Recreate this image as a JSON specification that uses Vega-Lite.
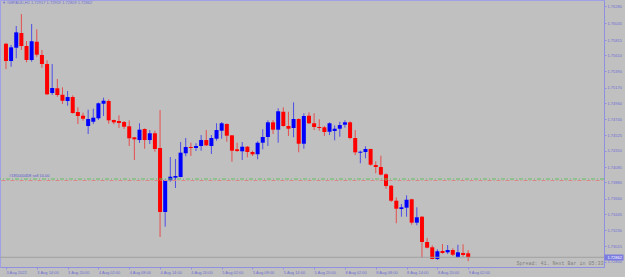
{
  "$schema": "https://vega.github.io/schema/vega-lite/v6.json",
  "width": 604,
  "height": 267,
  "autosize": "none",
  "padding": {"left": 0, "top": 0, "right": 21, "bottom": 10},
  "background": "#c0c0c0",
  "title": {
    "text": "▼ GBPAUD,H1  1.72917 1.72959 1.72809 1.72862",
    "anchor": "start",
    "frame": "group",
    "orient": "top",
    "offset": -8,
    "baseline": "alphabetic",
    "dx": 2,
    "font": "Liberation Sans",
    "fontSize": 4,
    "fontWeight": "normal",
    "color": "#6f6fd6"
  },
  "config": {
    "view": {"stroke": "#a0a0e6", "fill": "#c0c0c0"},
    "axis": {"grid": false, "labelOverlap": false}
  },
  "resolve": {"scale": {"y": "shared", "x": "shared"}, "axis": {"y": "independent", "x": "shared"}},
  "datasets": {
    "bars": [
      {"i":0,"o":1.75767,"h":1.75777,"l":1.75423,"c":1.75532},
      {"i":1,"o":1.75532,"h":1.75750,"l":1.75454,"c":1.75718},
      {"i":2,"o":1.75713,"h":1.76008,"l":1.75569,"c":1.75922},
      {"i":3,"o":1.75913,"h":1.76171,"l":1.75682,"c":1.75736},
      {"i":4,"o":1.75736,"h":1.75804,"l":1.75514,"c":1.75546},
      {"i":5,"o":1.75546,"h":1.76035,"l":1.75522,"c":1.75800},
      {"i":6,"o":1.75794,"h":1.75963,"l":1.75590,"c":1.75618},
      {"i":7,"o":1.75614,"h":1.75682,"l":1.75441,"c":1.75491},
      {"i":8,"o":1.75491,"h":1.75541,"l":1.75070,"c":1.75079},
      {"i":9,"o":1.75097,"h":1.75491,"l":1.75070,"c":1.75165},
      {"i":10,"o":1.75161,"h":1.75287,"l":1.75046,"c":1.75070},
      {"i":11,"o":1.75074,"h":1.75174,"l":1.74947,"c":1.74992},
      {"i":12,"o":1.74988,"h":1.75124,"l":1.74924,"c":1.75042},
      {"i":13,"o":1.75042,"h":1.75065,"l":1.74815,"c":1.74825},
      {"i":14,"o":1.74838,"h":1.74902,"l":1.74675,"c":1.74784},
      {"i":15,"o":1.74788,"h":1.74829,"l":1.74720,"c":1.74747},
      {"i":16,"o":1.74648,"h":1.74870,"l":1.74539,"c":1.74743},
      {"i":17,"o":1.74706,"h":1.74883,"l":1.74675,"c":1.74761},
      {"i":18,"o":1.74753,"h":1.74968,"l":1.74730,"c":1.74957},
      {"i":19,"o":1.74951,"h":1.75033,"l":1.74784,"c":1.74992},
      {"i":20,"o":1.74988,"h":1.75011,"l":1.74679,"c":1.74725},
      {"i":21,"o":1.74730,"h":1.74736,"l":1.74671,"c":1.74698},
      {"i":22,"o":1.74716,"h":1.74793,"l":1.74621,"c":1.74689},
      {"i":23,"o":1.74702,"h":1.74716,"l":1.74607,"c":1.74638},
      {"i":24,"o":1.74644,"h":1.74725,"l":1.74376,"c":1.74481},
      {"i":25,"o":1.74494,"h":1.74498,"l":1.74185,"c":1.74467},
      {"i":26,"o":1.74457,"h":1.74685,"l":1.74417,"c":1.74598},
      {"i":27,"o":1.74607,"h":1.74617,"l":1.74339,"c":1.74457},
      {"i":28,"o":1.74457,"h":1.74593,"l":1.74403,"c":1.74549},
      {"i":29,"o":1.74549,"h":1.74584,"l":1.74298,"c":1.74335},
      {"i":30,"o":1.74349,"h":1.74865,"l":1.73138,"c":1.73478},
      {"i":31,"o":1.73478,"h":1.73923,"l":1.73278,"c":1.73913},
      {"i":32,"o":1.73909,"h":1.74226,"l":1.73890,"c":1.73958},
      {"i":33,"o":1.73945,"h":1.74199,"l":1.73805,"c":1.73968},
      {"i":34,"o":1.73954,"h":1.74430,"l":1.73950,"c":1.74285},
      {"i":35,"o":1.74277,"h":1.74485,"l":1.74236,"c":1.74362},
      {"i":36,"o":1.74362,"h":1.74421,"l":1.74240,"c":1.74349},
      {"i":37,"o":1.74349,"h":1.74413,"l":1.74308,"c":1.74376},
      {"i":38,"o":1.74376,"h":1.74525,"l":1.74312,"c":1.74457},
      {"i":39,"o":1.74457,"h":1.74593,"l":1.74376,"c":1.74385},
      {"i":40,"o":1.74376,"h":1.74525,"l":1.74267,"c":1.74485},
      {"i":41,"o":1.74475,"h":1.74685,"l":1.74448,"c":1.74593},
      {"i":42,"o":1.74584,"h":1.74702,"l":1.74475,"c":1.74685},
      {"i":43,"o":1.74675,"h":1.74685,"l":1.74434,"c":1.74516},
      {"i":44,"o":1.74521,"h":1.74525,"l":1.74162,"c":1.74312},
      {"i":45,"o":1.74331,"h":1.74421,"l":1.74294,"c":1.74308},
      {"i":46,"o":1.74304,"h":1.74430,"l":1.74185,"c":1.74366},
      {"i":47,"o":1.74366,"h":1.74376,"l":1.74222,"c":1.74294},
      {"i":48,"o":1.74294,"h":1.74312,"l":1.74240,"c":1.74263},
      {"i":49,"o":1.74263,"h":1.74440,"l":1.74195,"c":1.74421},
      {"i":50,"o":1.74421,"h":1.74603,"l":1.74331,"c":1.74498},
      {"i":51,"o":1.74498,"h":1.74725,"l":1.74376,"c":1.74698},
      {"i":52,"o":1.74698,"h":1.74730,"l":1.74539,"c":1.74598},
      {"i":53,"o":1.74598,"h":1.74889,"l":1.74421,"c":1.74848},
      {"i":54,"o":1.74842,"h":1.74902,"l":1.74638,"c":1.74648},
      {"i":55,"o":1.74648,"h":1.74842,"l":1.74512,"c":1.74611},
      {"i":56,"o":1.74621,"h":1.74970,"l":1.74494,"c":1.74743},
      {"i":57,"o":1.74743,"h":1.74753,"l":1.74290,"c":1.74407},
      {"i":58,"o":1.74407,"h":1.74821,"l":1.74339,"c":1.74784},
      {"i":59,"o":1.74788,"h":1.74834,"l":1.74675,"c":1.74685},
      {"i":60,"o":1.74685,"h":1.74821,"l":1.74593,"c":1.74634},
      {"i":61,"o":1.74634,"h":1.74739,"l":1.74584,"c":1.74621},
      {"i":62,"o":1.74630,"h":1.74648,"l":1.74512,"c":1.74566},
      {"i":63,"o":1.74570,"h":1.74698,"l":1.74525,"c":1.74685},
      {"i":64,"o":1.74580,"h":1.74657,"l":1.74453,"c":1.74611},
      {"i":65,"o":1.74611,"h":1.74706,"l":1.74502,"c":1.74661},
      {"i":66,"o":1.74666,"h":1.74725,"l":1.74625,"c":1.74698},
      {"i":67,"o":1.74698,"h":1.74712,"l":1.74467,"c":1.74485},
      {"i":68,"o":1.74485,"h":1.74593,"l":1.74253,"c":1.74290},
      {"i":69,"o":1.74285,"h":1.74312,"l":1.74141,"c":1.74298},
      {"i":70,"o":1.74294,"h":1.74372,"l":1.74209,"c":1.74335},
      {"i":71,"o":1.74335,"h":1.74339,"l":1.74108,"c":1.74122},
      {"i":72,"o":1.74117,"h":1.74168,"l":1.74005,"c":1.74090},
      {"i":73,"o":1.74090,"h":1.74244,"l":1.73977,"c":1.73986},
      {"i":74,"o":1.73991,"h":1.74005,"l":1.73795,"c":1.73832},
      {"i":75,"o":1.73836,"h":1.73845,"l":1.73614,"c":1.73632},
      {"i":76,"o":1.73632,"h":1.73678,"l":1.73325,"c":1.73523},
      {"i":77,"o":1.73519,"h":1.73587,"l":1.73414,"c":1.73542},
      {"i":78,"o":1.73537,"h":1.73705,"l":1.73414,"c":1.73645},
      {"i":79,"o":1.73651,"h":1.73659,"l":1.73305,"c":1.73333},
      {"i":80,"o":1.73333,"h":1.73542,"l":1.73297,"c":1.73406},
      {"i":81,"o":1.73414,"h":1.73424,"l":1.72853,"c":1.73070},
      {"i":82,"o":1.73070,"h":1.73125,"l":1.72984,"c":1.72993},
      {"i":83,"o":1.72998,"h":1.73025,"l":1.72835,"c":1.72839},
      {"i":84,"o":1.72839,"h":1.72971,"l":1.72825,"c":1.72944},
      {"i":85,"o":1.72948,"h":1.73043,"l":1.72911,"c":1.72921},
      {"i":86,"o":1.72930,"h":1.73029,"l":1.72907,"c":1.72961},
      {"i":87,"o":1.72961,"h":1.72984,"l":1.72880,"c":1.72897},
      {"i":88,"o":1.72862,"h":1.73033,"l":1.72853,"c":1.72930},
      {"i":89,"o":1.72921,"h":1.73039,"l":1.72870,"c":1.72893},
      {"i":90,"o":1.72917,"h":1.72959,"l":1.72809,"c":1.72862}
    ],
    "bid": [{"p": 1.72862}],
    "order": [{"i": 0.6, "p": 1.73927, "label": "#185000458 sell 10.00"}]
  },
  "layer": [
    {
      "data": {"name": "bars"},
      "mark": {"type": "rule", "strokeWidth": 1, "opacity": 0.6},
      "encoding": {
        "x": {
          "field": "i", "type": "quantitative",
          "scale": {"domain": [-0.19, 115.47], "nice": false, "zero": false},
          "axis": {
            "orient": "bottom",
            "values": [0, 6, 12, 18, 24, 30, 36, 42, 48, 54, 60, 66, 72, 78, 84, 90],
            "labelExpr": "['3 Aug 2022','3 Aug 14:00','3 Aug 20:00','4 Aug 02:00','4 Aug 08:00','4 Aug 14:00','4 Aug 20:00','5 Aug 02:00','5 Aug 08:00','5 Aug 14:00','5 Aug 20:00','8 Aug 02:00','8 Aug 08:00','8 Aug 14:00','8 Aug 20:00','9 Aug 02:00'][datum.value / 6]",
            "labelAlign": "left",
            "labelBaseline": "top",
            "labelFont": "Liberation Sans",
            "labelFontSize": 4,
            "labelColor": "#6f6fd6",
            "labelPadding": 1,
            "labelOverlap": false,
            "labelFlush": false,
            "tickSize": 2,
            "tickColor": "#9090e0",
            "domainColor": "#9090e0",
            "title": "Spread: 41. Next Bar in 05:33",
            "titleX": 603,
            "titleY": -2,
            "titleAlign": "right",
            "titleBaseline": "bottom",
            "titleFont": "Liberation Mono",
            "titleFontSize": 5,
            "titleFontWeight": "normal",
            "titleColor": "#808080"
          }
        },
        "y": {
          "field": "l", "type": "quantitative",
          "scale": {"domain": [1.7273, 1.76362], "nice": false, "zero": false},
          "axis": {
            "orient": "right",
            "values": [1.7628, 1.76045, 1.75815, 1.7561, 1.7539, 1.7517, 1.7496, 1.7474, 1.74525, 1.7431, 1.74085, 1.7388, 1.7366, 1.73445, 1.7323, 1.73015, 1.728],
            "format": ".5f",
            "labelFont": "Liberation Sans",
            "labelFontSize": 4,
            "labelColor": "#6f6fd6",
            "labelPadding": 1,
            "labelOverlap": false,
            "labelFlush": false,
            "tickSize": 2,
            "tickColor": "#9090e0",
            "domainColor": "#9090e0",
            "title": null
          }
        },
        "y2": {"field": "h"},
        "color": {
          "condition": {"test": "datum.c >= datum.o", "value": "#0000ff"},
          "value": "#ff0000"
        }
      }
    },
    {
      "data": {"name": "bars"},
      "mark": {"type": "bar", "size": 4},
      "encoding": {
        "x": {"field": "i", "type": "quantitative", "scale": {"domain": [-0.19, 115.47], "nice": false, "zero": false}},
        "y": {"field": "o", "type": "quantitative", "scale": {"domain": [1.7273, 1.76362], "nice": false, "zero": false}, "axis": null},
        "y2": {"field": "c"},
        "color": {
          "condition": {"test": "datum.c >= datum.o", "value": "#0000ff"},
          "value": "#ff0000"
        }
      }
    },
    {
      "data": {"name": "bid"},
      "mark": {"type": "rule", "color": "#a0a0a0", "strokeWidth": 1},
      "encoding": {
        "y": {
          "field": "p", "type": "quantitative",
          "scale": {"domain": [1.7273, 1.76362], "nice": false, "zero": false},
          "axis": {
            "orient": "right",
            "values": [1.72862],
            "format": ".5f",
            "domain": false,
            "tickSize": 19,
            "tickWidth": 6,
            "tickColor": "#7b7be0",
            "labelPadding": -16,
            "labelFont": "Liberation Sans",
            "labelFontSize": 4,
            "labelColor": "#ffffff",
            "labelOverlap": false,
            "labelFlush": false,
            "title": null
          }
        }
      }
    },
    {
      "data": {"name": "order"},
      "mark": {"type": "rule", "color": "#5fc05f", "strokeWidth": 1, "strokeDash": [4, 2, 1, 2]},
      "encoding": {
        "y": {"field": "p", "type": "quantitative", "scale": {"domain": [1.7273, 1.76362], "nice": false, "zero": false}, "axis": null}
      }
    },
    {
      "data": {"name": "order"},
      "mark": {"type": "rule", "color": "#e08585", "strokeWidth": 1, "strokeDash": [4, 2, 1, 2], "strokeDashOffset": 4.5, "yOffset": 1.5},
      "encoding": {
        "y": {"field": "p", "type": "quantitative", "scale": {"domain": [1.7273, 1.76362], "nice": false, "zero": false}, "axis": null}
      }
    },
    {
      "data": {"name": "order"},
      "mark": {"type": "text", "align": "left", "baseline": "bottom", "dy": -1, "font": "Liberation Sans", "fontSize": 4, "color": "#5a5ad0"},
      "encoding": {
        "x": {"field": "i", "type": "quantitative", "scale": {"domain": [-0.19, 115.47], "nice": false, "zero": false}},
        "y": {"field": "p", "type": "quantitative", "scale": {"domain": [1.7273, 1.76362], "nice": false, "zero": false}, "axis": null},
        "text": {"field": "label"}
      }
    }
  ]
}
